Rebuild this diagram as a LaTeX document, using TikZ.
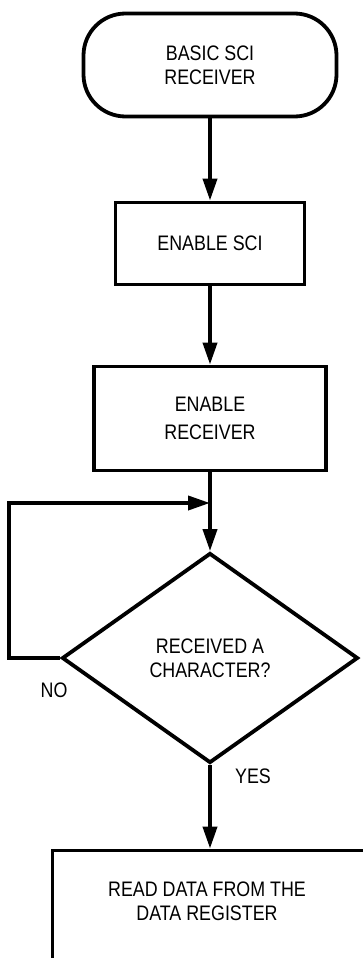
\documentclass[tikz,border=0pt]{standalone}
\usepackage{fontspec}
\setmainfont{Liberation Sans}[FakeStretch=0.85]
\usetikzlibrary{shapes.geometric,arrows.meta}
\begin{document}
\begin{tikzpicture}[x=1pt,y=1pt,
  every node/.style={font=\fontsize{21pt}{24pt}\selectfont, align=center, line width=3.8pt},
  procbox/.style={draw, rectangle, inner sep=0pt},
  termbox/.style={draw, rectangle, rounded corners=42pt, inner sep=0pt},
  decbox/.style={draw, diamond, inner sep=0pt},
  arr/.style={line width=3.8pt, -{Triangle[length=22pt,width=14pt]}},
  lbl/.style={inner sep=0pt}]
\useasboundingbox (0,0) rectangle (363,-958);
\node[termbox, minimum width=253pt, minimum height=103pt] (start) at (210,-65) {BASIC SCI\\RECEIVER};
\node[procbox, minimum width=189pt, minimum height=82pt] (en) at (210,-243.5) {ENABLE SCI};
\node[procbox, minimum width=232pt, minimum height=104pt] (rx) at (210,-418.5) {ENABLE\\[4pt]RECEIVER};
\node[decbox, minimum width=296pt, minimum height=210pt] (chk) at (210,-658) {RECEIVED A\\CHARACTER?};
\node[procbox, minimum width=315pt, minimum height=140pt] (read) at (210,-920.5) {};
\node[lbl] (readtxt) at (207,-901.5) {READ DATA FROM THE\\DATA REGISTER};
\node[lbl] (no) at (54,-690) {NO};
\node[lbl] (yes) at (253,-776) {YES};
\coordinate (merge) at (210,-503);
\draw[arr] (start.south) -- (en.north);
\draw[arr] (en.south) -- (rx.north);
\draw[arr] (rx.south) -- (chk.north);
\draw[arr] (chk.south) -- (read.north);
\draw[arr] (chk.west) -- ++(-51,0) |- (merge);
\end{tikzpicture}
\end{document}
